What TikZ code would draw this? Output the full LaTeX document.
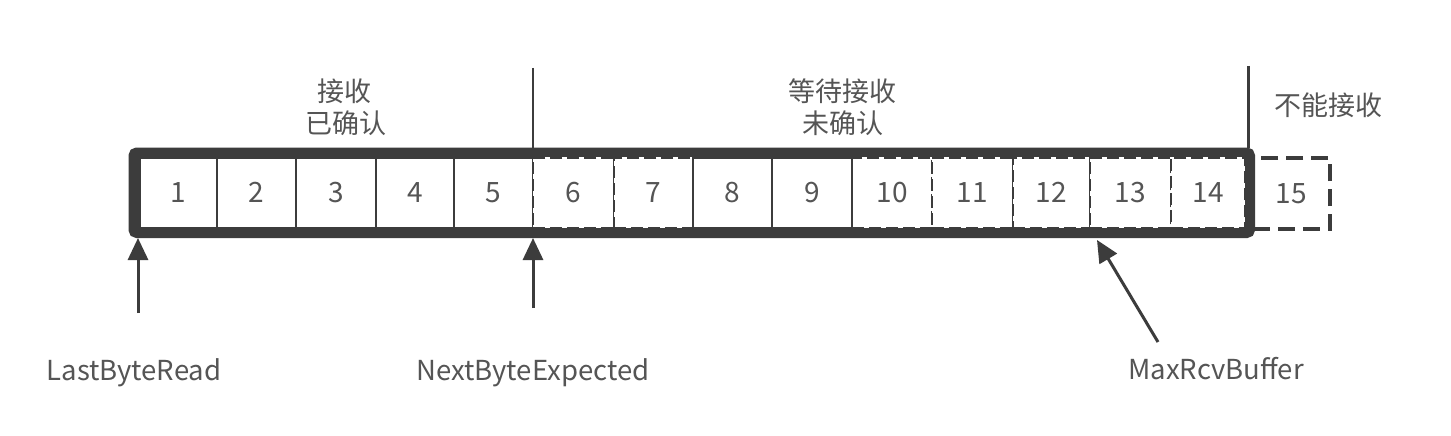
\documentclass[tikz,border=0pt]{standalone}
\usepackage{fontspec}
\setmainfont{Noto Sans CJK SC}
\usetikzlibrary{arrows.meta}
\definecolor{ln}{HTML}{3C3C3C}
\definecolor{tx}{HTML}{555555}
\begin{document}
\begin{tikzpicture}[x=1pt,y=-1pt,
  cellsolid/.style={draw=ln, line width=2.5pt, fill=white, inner sep=0pt,
    minimum height=71pt, text=tx, font=\fontsize{28}{32}\selectfont},
  celldash/.style={cellsolid, dash pattern=on 12pt off 5pt},
  cellout/.style={draw=ln, line width=3.5pt, dash pattern=on 17pt off 8pt, inner sep=0pt,
    minimum height=71pt, text=tx, font=\fontsize{28}{32}\selectfont},
  bufbox/.style={draw=ln, line width=11pt, rounded corners=3pt, inner sep=0pt},
  seprule/.style={draw=ln, line width=2.8pt},
  ptr/.style={draw=ln, line width=3pt, -{Triangle[width=20pt,length=22pt]}},
  cjk/.style={text=tx, font=\fontsize{27}{32}\selectfont, inner sep=0pt},
  lbl/.style={text=tx, font=\fontsize{27.5}{32}\selectfont, inner sep=0pt, anchor=base}]
\useasboundingbox (0,0) rectangle (1451,436);
\fill[white] (0,0) rectangle (1451,436);
% cell beyond the window
\node[cellout, minimum width=77pt, minimum height=71pt] (c15) at (1291.5,193.5) {15};
% receive buffer
\node[bufbox, minimum width=1115.5pt, minimum height=79.5pt] (buf) at (691.75,192.75) {};
% cells
\node[cellsolid, minimum width=77pt] (c1) at (178.5,192.75) {1};
\node[cellsolid, minimum width=79pt] (c2) at (256.5,192.75) {2};
\node[cellsolid, minimum width=80pt] (c3) at (336,192.75) {3};
\node[cellsolid, minimum width=78pt] (c4) at (415,192.75) {4};
\node[cellsolid, minimum width=79pt] (c5) at (493.5,192.75) {5};
\node[celldash, minimum width=81pt] (c6) at (573.5,192.75) {6};
\node[celldash, minimum width=79pt] (c7) at (653.5,192.75) {7};
\node[celldash, minimum width=80pt] (c10) at (892,192.75) {10};
\node[celldash, minimum width=81pt] (c11) at (972.5,192.75) {11};
\node[celldash, minimum width=77pt] (c12) at (1051.5,192.75) {12};
\node[celldash, minimum width=81pt] (c13) at (1130.5,192.75) {13};
\node[celldash, minimum width=74pt] (c14) at (1208,192.75) {14};
\node[cellsolid, minimum width=79pt] (c8) at (732.5,192.75) {8};
\node[cellsolid, minimum width=80pt] (c9) at (812,192.75) {9};
% separators
\coordinate (sepA) at (533,68);
\coordinate (sepB) at (1248.5,66);
\draw[seprule] (sepA) -- (sepA |- buf.north);
\draw[seprule] (sepB) -- (sepB |- buf.north);
% region labels
\node[cjk] (t1a) at (344,91) {接收};
\node[cjk] (t1b) at (346,123) {已确认};
\node[cjk] (t2a) at (842,91) {等待接收};
\node[cjk] (t2b) at (843,123) {未确认};
\node[cjk] (t3) at (1328,105) {不能接收};
% pointers
\coordinate (lbrTail) at (138,313);
\coordinate (lbrTip) at (138,238);
\coordinate (nbeTail) at (533,308);
\coordinate (nbeTip) at (533,238);
\coordinate (mrbTail) at (1158,342);
\coordinate (mrbTip) at (1097,240);
\draw[ptr] (lbrTail) -- (lbrTip);
\draw[ptr] (nbeTail) -- (nbeTip);
\draw[ptr] (mrbTail) -- (mrbTip);
\node[lbl] (lbr) at (134,380) {LastByteRead};
\node[lbl] (nbe) at (533,380) {NextByteExpected};
\node[lbl] (mrb) at (1216,379) {MaxRcvBuffer};
\end{tikzpicture}
\end{document}
